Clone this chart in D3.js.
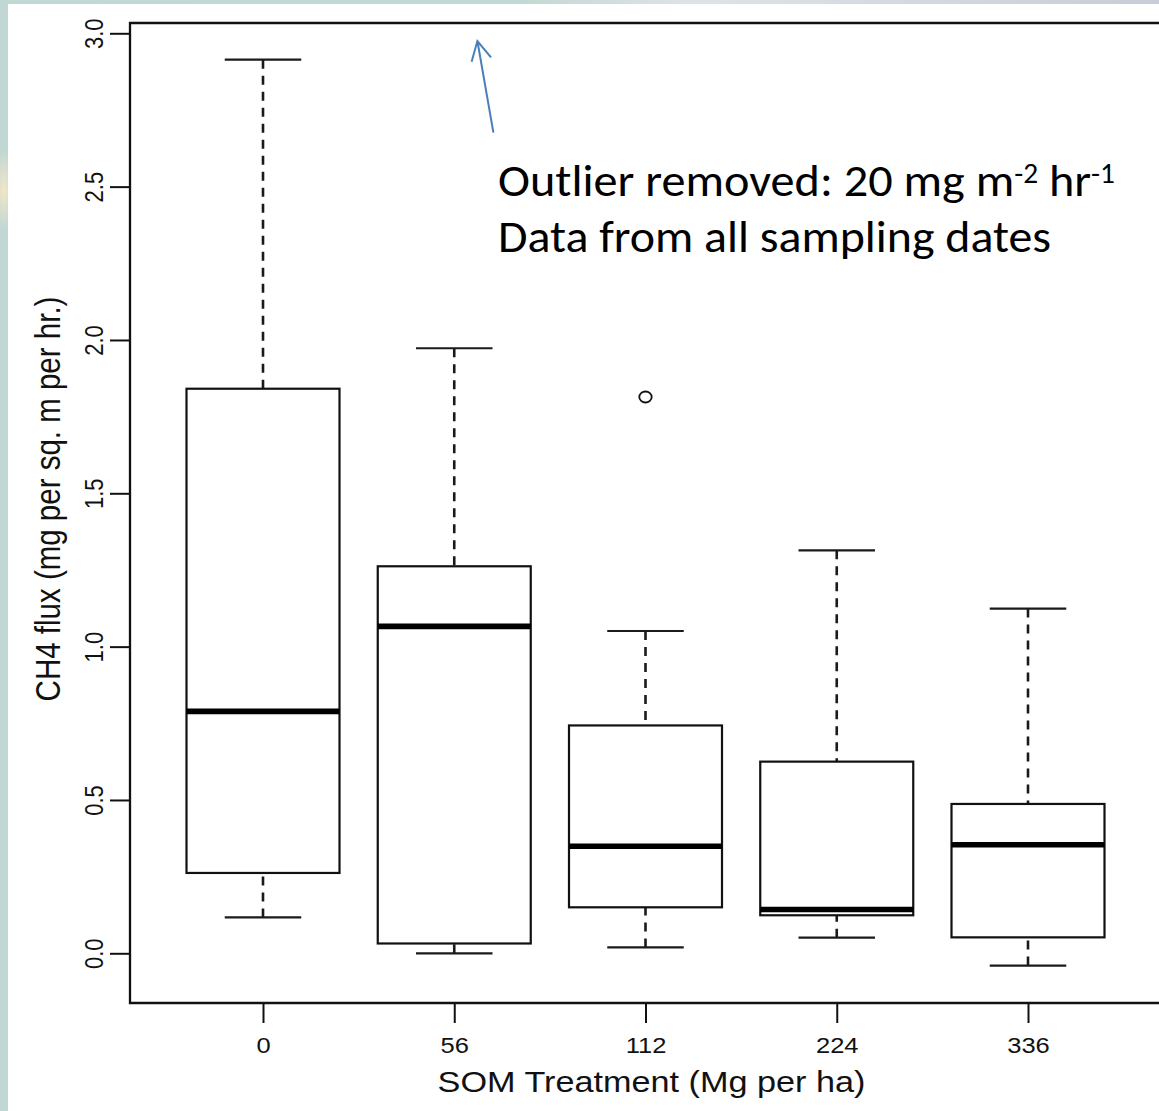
<!DOCTYPE html>
<html>
<head>
<meta charset="utf-8">
<script src="https://cdn.jsdelivr.net/npm/d3@7"></script>
<style>
  html, body { margin: 0; padding: 0; background: #c0d7d3; }
  svg { display: block; }
</style>
</head>
<body>
<script>
// ---- data ----
const categories   = ["0", "56", "112", "224", "336"];
const whiskerLow   = [0.117, 0.000, 0.019, 0.051, -0.040];
const q1           = [0.262, 0.032, 0.150, 0.124, 0.052];
const medians      = [0.789, 1.066, 0.349, 0.143, 0.354];
const q3           = [1.841, 1.262, 0.743, 0.625, 0.487];
const whiskerHigh  = [2.914, 1.973, 1.051, 1.314, 1.124];
const outlierCats  = ["112"];
const outlierVals  = [1.814];
const yTicks       = [0, 0.5, 1.0, 1.5, 2.0, 2.5, 3.0];
const xTitle = "SOM Treatment (Mg per ha)";
const yTitle = "CH4 flux (mg per sq. m per hr.)";

const W = 1159, H = 1111;
const SX = 1.16; // horizontal stretch of the original picture

const svg = d3.select("body").append("svg").attr("width", W).attr("height", H);

// background
const defs = svg.append("defs");
const tg = defs.append("linearGradient").attr("id", "topg").attr("x1", 0).attr("x2", 1).attr("y1", 0).attr("y2", 0);
tg.append("stop").attr("offset", "0%").attr("stop-color", "#c0d7d3");
tg.append("stop").attr("offset", "45%").attr("stop-color", "#c3d8d4");
tg.append("stop").attr("offset", "60%").attr("stop-color", "#dfe3e6");
tg.append("stop").attr("offset", "100%").attr("stop-color", "#c9ccd6");
const bg = defs.append("radialGradient").attr("id", "blob");
bg.append("stop").attr("offset", "0%").attr("stop-color", "#f3e6c8");
bg.append("stop").attr("offset", "100%").attr("stop-color", "#c0d7d3");
svg.append("rect").attr("x", 0).attr("y", 0).attr("width", W).attr("height", H).attr("fill", "#c0d7d3");
svg.append("rect").attr("x", 0).attr("y", 0).attr("width", W).attr("height", 6).attr("fill", "url(#topg)");
svg.append("ellipse").attr("cx", 4).attr("cy", 190).attr("rx", 12).attr("ry", 40).attr("fill", "url(#blob)");
svg.append("rect").attr("x", 8).attr("y", 4).attr("width", W - 8).attr("height", H - 4).attr("fill", "#ffffff");

// scales
const y = d3.scaleLinear().domain([0, 3]).range([953.3, 33.3]);
const x = d3.scalePoint().domain(categories).range([263, 1028]);
const step = x.step();
const boxHalf = 0.4 * step, capHalf = 0.2 * step;

const frameL = 130, frameT = 23, frameB = 1003, frameR = 1173;

// frame (box)
svg.append("path")
  .attr("d", `M${frameR},${frameT} L${frameL},${frameT} L${frameL},${frameB} L${frameR},${frameB}`)
  .attr("fill", "none").attr("stroke", "#111").attr("stroke-width", 2.3);

// y axis
const yAxis = d3.axisLeft(y).tickValues(yTicks).tickSize(20).tickFormat(d3.format(".1f"));
const gy = svg.append("g").attr("transform", `translate(${frameL},0)`).call(yAxis);
gy.select(".domain").attr("stroke", "#111").attr("stroke-width", 2).attr("d", `M0,${y(0)}V${y(3)}`);
gy.selectAll(".tick line").attr("stroke", "#111").attr("stroke-width", 2);
gy.selectAll(".tick text").remove();
gy.selectAll(".tick").append("text")
  .attr("transform", `translate(-27,0) scale(${SX},1) rotate(-90)`)
  .attr("text-anchor", "middle")
  .attr("fill", "#111")
  .style("font-family", "'Liberation Sans', Arial, sans-serif")
  .style("font-size", "22px")
  .text(d => d3.format(".1f")(d));

// x axis
const xAxis = d3.axisBottom(x).tickSize(20).tickSizeOuter(0);
const gx = svg.append("g").attr("transform", `translate(0,${frameB})`).call(xAxis);
gx.select(".domain").remove();
gx.selectAll(".tick line").attr("stroke", "#111").attr("stroke-width", 2);
gx.selectAll(".tick text").remove();
gx.selectAll(".tick").append("text")
  .attr("transform", `translate(0,50) scale(${SX},1)`)
  .attr("text-anchor", "middle")
  .attr("fill", "#111")
  .style("font-family", "'Liberation Sans', Arial, sans-serif")
  .style("font-size", "22px")
  .text(d => d);

// axis titles
svg.append("text")
  .attr("transform", `translate(${(frameL + frameR) / 2},1092) scale(${SX},1)`)
  .attr("text-anchor", "middle").attr("fill", "#111")
  .style("font-family", "'Liberation Sans', Arial, sans-serif")
  .style("font-size", "29.5px")
  .text(xTitle);
svg.append("text")
  .attr("transform", `translate(59.5,499) scale(${SX},1) rotate(-90)`)
  .attr("text-anchor", "middle").attr("fill", "#111")
  .style("font-family", "'Liberation Sans', Arial, sans-serif")
  .style("font-size", "29.5px")
  .text(yTitle);

// boxes
const boxes = categories.map((c, i) => ({
  c, lo: whiskerLow[i], q1: q1[i], med: medians[i], q3: q3[i], hi: whiskerHigh[i]
}));
const g = svg.append("g");
const bx = g.selectAll("g.box").data(boxes).join("g").attr("class", "box");

// whiskers (dashed), drawn from the whisker end toward the box
bx.append("line")
  .attr("x1", d => x(d.c)).attr("x2", d => x(d.c))
  .attr("y1", d => y(d.hi)).attr("y2", d => y(d.q3))
  .attr("stroke", "#1a1a1a").attr("stroke-width", 2.6).attr("stroke-dasharray", "9,7");
bx.append("line")
  .attr("x1", d => x(d.c)).attr("x2", d => x(d.c))
  .attr("y1", d => y(d.lo)).attr("y2", d => y(d.q1))
  .attr("stroke", "#1a1a1a").attr("stroke-width", 2.6).attr("stroke-dasharray", "9,7");
// caps
bx.append("line")
  .attr("x1", d => x(d.c) - capHalf).attr("x2", d => x(d.c) + capHalf)
  .attr("y1", d => y(d.hi)).attr("y2", d => y(d.hi))
  .attr("stroke", "#1a1a1a").attr("stroke-width", 2.2);
bx.append("line")
  .attr("x1", d => x(d.c) - capHalf).attr("x2", d => x(d.c) + capHalf)
  .attr("y1", d => y(d.lo)).attr("y2", d => y(d.lo))
  .attr("stroke", "#1a1a1a").attr("stroke-width", 2.2);
// box
bx.append("rect")
  .attr("x", d => x(d.c) - boxHalf).attr("width", 2 * boxHalf)
  .attr("y", d => y(d.q3)).attr("height", d => y(d.q1) - y(d.q3))
  .attr("fill", "#fff").attr("stroke", "#111").attr("stroke-width", 2.2);
// median
bx.append("line")
  .attr("x1", d => x(d.c) - boxHalf).attr("x2", d => x(d.c) + boxHalf)
  .attr("y1", d => y(d.med)).attr("y2", d => y(d.med))
  .attr("stroke", "#000").attr("stroke-width", 5.6);

// outliers
g.selectAll("ellipse.out").data(outlierCats.map((c, i) => ({ c, v: outlierVals[i] })))
  .join("ellipse").attr("class", "out")
  .attr("cx", d => x(d.c)).attr("cy", d => y(d.v))
  .attr("rx", 6.2).attr("ry", 5.5)
  .attr("fill", "none").attr("stroke", "#111").attr("stroke-width", 1.8);

// annotation arrow
const arrowCol = "#4a7ebb";
svg.append("path")
  .attr("d", "M493.4,132.7 L477.4,41 M471.6,61.7 L477.4,41 L491,57.3")
  .attr("fill", "none").attr("stroke", arrowCol).attr("stroke-width", 2)
  .attr("stroke-linejoin", "miter");

// annotation text
const noteFont = "Carlito, Calibri, Lato, 'Open Sans', sans-serif";
const t1 = svg.append("text").attr("x", 498).attr("y", 196)
  .attr("textLength", 617).attr("lengthAdjust", "spacingAndGlyphs")
  .attr("fill", "#000").style("font-family", noteFont).style("font-size", "46px");
t1.append("tspan").text("Outlier removed: 20 mg m");
t1.append("tspan").attr("dy", -13).style("font-size", "28px").text("-2");
t1.append("tspan").attr("dy", 13).text(" hr");
t1.append("tspan").attr("dy", -13).style("font-size", "28px").text("-1");
svg.append("text").attr("x", 498).attr("y", 252)
  .attr("textLength", 553).attr("lengthAdjust", "spacingAndGlyphs")
  .attr("fill", "#000").style("font-family", noteFont).style("font-size", "46px")
  .text("Data from all sampling dates");
</script>
</body>
</html>
